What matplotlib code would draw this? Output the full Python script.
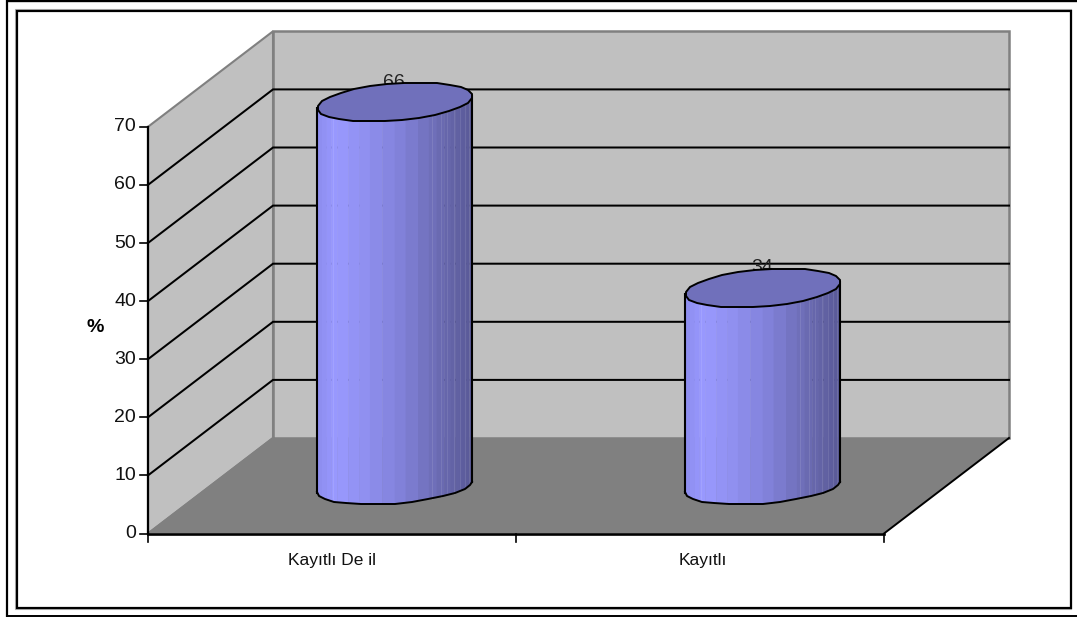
import numpy as np
import matplotlib
matplotlib.use("Agg")
from matplotlib import pyplot as plt
from matplotlib.patches import Polygon, Rectangle

categories = ["Kayıtlı De il", "Kayıtlı"]
values = [66, 34]
y_ticks = [0, 10, 20, 30, 40, 50, 60, 70]
y_label = "%"

plt.rcParams["font.family"] = ["Liberation Sans", "DejaVu Sans"]

W, H = 1077, 617
fig = plt.figure(figsize=(W/100, H/100), dpi=100)
ax = fig.add_axes([0, 0, 1, 1])
ax.set_xlim(0, W)
ax.set_ylim(H, 0)
ax.axis("off")

# box geometry of the 3D frame, in pixels
x0, x1 = 148, 884
y0 = 533.5
px_per_unit = 5.81
dx, dy = 125, -95.5


def front(x, v=0):
    return (x, y0 - v*px_per_unit)


def back(x, v=0):
    return (x + dx, y0 + dy - v*px_per_unit)


WALL = "#c0c0c0"
FLOOR = "#808080"
EDGE = "#808080"
vmax = y_ticks[-1]

# outer page frame and inner chart frame
ax.plot([7, 7], [0, 616.5], color="black", lw=1.6, solid_capstyle="butt")
ax.plot([6, W], [1, 1], color="black", lw=1.7, solid_capstyle="butt")
ax.plot([6, W], [616, 616], color="black", lw=1.4, solid_capstyle="butt")
ax.add_patch(Rectangle((15.5, 10), 1071 - 15.5, 608.5 - 10, fc="white", ec="#b4b4b4", lw=1.5, zorder=1))
ax.add_patch(Rectangle((17, 11), 1071 - 17, 608 - 11, fc="none", ec="black", lw=1.6, zorder=1.1))

# walls and floor
ax.add_patch(Polygon([back(x0), back(x1), back(x1, vmax), back(x0, vmax)],
                     fc=WALL, ec=EDGE, lw=1.8, zorder=2))
ax.add_patch(Polygon([front(x0), back(x0), back(x0, vmax), front(x0, vmax)],
                     fc=WALL, ec=EDGE, lw=1.5, zorder=2))
ax.add_patch(Polygon([front(x0), front(x1), back(x1), back(x0)],
                     fc=FLOOR, ec="none", zorder=2.1))
ax.plot(*zip(front(x1), back(x1)), color="black", lw=1.4, zorder=2.2)
ax.plot(*zip(front(x0), back(x0)), color=EDGE, lw=1.4, zorder=2.2)

# gridlines across side wall and back wall
for t in y_ticks[1:-1]:
    pts = [front(x0, t), back(x0, t), back(x1, t)]
    ax.plot(*zip(*pts), color="black", lw=1.45, zorder=2.3, solid_joinstyle="miter")

# axes with ticks
ax.plot(*zip(front(x0, 0), front(x0, vmax)), color="black", lw=1.6, zorder=6)
ax.plot(*zip(front(x0), front(x1)), color="black", lw=1.9, zorder=6)
for t in y_ticks:
    x, y = front(x0, t)
    ax.plot([x - 8, x], [y, y], color="black", lw=1.2, zorder=6)
    ax.text(x - 12, y - 2, str(t), ha="right", va="center_baseline", fontsize=14, color="#111111", zorder=7)
n = len(categories)
slot = (x1 - x0)/n
for i in range(n + 1):
    x = x0 + i*slot
    ax.plot([x, x], [y0, y0 + 8], color="black", lw=1.2, zorder=6)
ax.text(95, 327, y_label, ha="center", va="center", fontsize=14, fontweight="bold", zorder=7)

# vertical strip colours of the cylinder, left to right
stops = np.array([0, 0.12, 0.3, 0.55, 0.8, 1.0])
reds = np.array([0x8c, 0x99, 0x90, 0x80, 0x6a, 0x58])
blues = np.array([0xee, 0xff, 0xf0, 0xd8, 0xb0, 0x96])
edges_t = np.array([0, .03, .06, .09, .13, .2, .27, .34, .42, .5, .57, .65, .72, .77, .82,
                    .86, .89, .92, .94, .96, .98, 1])
seams = [.10, .74, .80, .84, .88, .92, .95, .98]

a = 77.5
tilt = 6
lid_b = 18.5
low_tilt = 5.5
low_b = 16.5
base_y = 487
lid_lift = 1.5


def lid_outline(cx, cy, num=28):
    t = np.linspace(0, 2*np.pi, num, endpoint=False) + 0.1
    # vertices land on whole pixels, which gives the outline its slight wobble
    return np.column_stack((np.round(cx + a*np.cos(t)), np.round(cy - tilt*np.cos(t) - lid_b*np.sin(t))))


def low_edge(xx, cx):
    u = (xx - cx)/a
    return base_y - low_tilt*u + low_b*np.sqrt(max(0, 1 - u*u))


for i, v in enumerate(values):
    cx = x0 + (i + 0.5)*slot + 62.75
    top_y = base_y - v*px_per_unit - lid_lift
    left = cx - a

    def high_edge(xx):
        return top_y - tilt*(xx - cx)/a

    # body strips
    for s, e in zip(edges_t[:-1], edges_t[1:]):
        xa, xb = left + s*2*a, left + e*2*a
        m = (s + e)/2
        r = np.interp(m, stops, reds)/255
        col = (r, r, np.interp(m, stops, blues)/255)
        ax.add_patch(Polygon([(xa, high_edge(xa)), (xb + 0.4, high_edge(xb)),
                              (xb + 0.4, low_edge(xb, cx)), (xa, low_edge(xa, cx))],
                             fc=col, ec="none", zorder=3))
    for s in seams:
        xs = left + s*2*a
        ax.plot([xs, xs], [high_edge(xs), low_edge(xs, cx)], color="white", alpha=0.1, lw=0.7, zorder=3.1)

    # bottom rim and sides
    t = np.linspace(np.pi, 0, 15)
    bx = np.round(cx + a*np.cos(t))
    by = np.round(base_y - low_tilt*np.cos(t) + low_b*np.sin(t))
    ax.plot(bx, by, color="black", lw=1.4, zorder=4)
    ax.plot([left, left], [top_y + tilt, base_y + low_tilt], color="black", lw=1.5, zorder=4)
    ax.plot([left + 2*a]*2, [top_y - tilt, base_y - low_tilt], color="black", lw=1.5, zorder=4)

    # value label sits behind the lid
    ax.text(cx - 1, top_y - 20, str(v), ha="center", va="center", fontsize=14, color="#222222", zorder=4.5)
    ax.add_patch(Polygon(lid_outline(cx, top_y), fc="#7070bb", ec="black", lw=1.4, zorder=5))

    ax.text(x0 + (i + 0.5)*slot - 0.5 + 3*i, 560, categories[i], ha="center", va="center", fontsize=12.5,
            color="#111111", zorder=7)

fig.savefig("out.png", dpi=100)
